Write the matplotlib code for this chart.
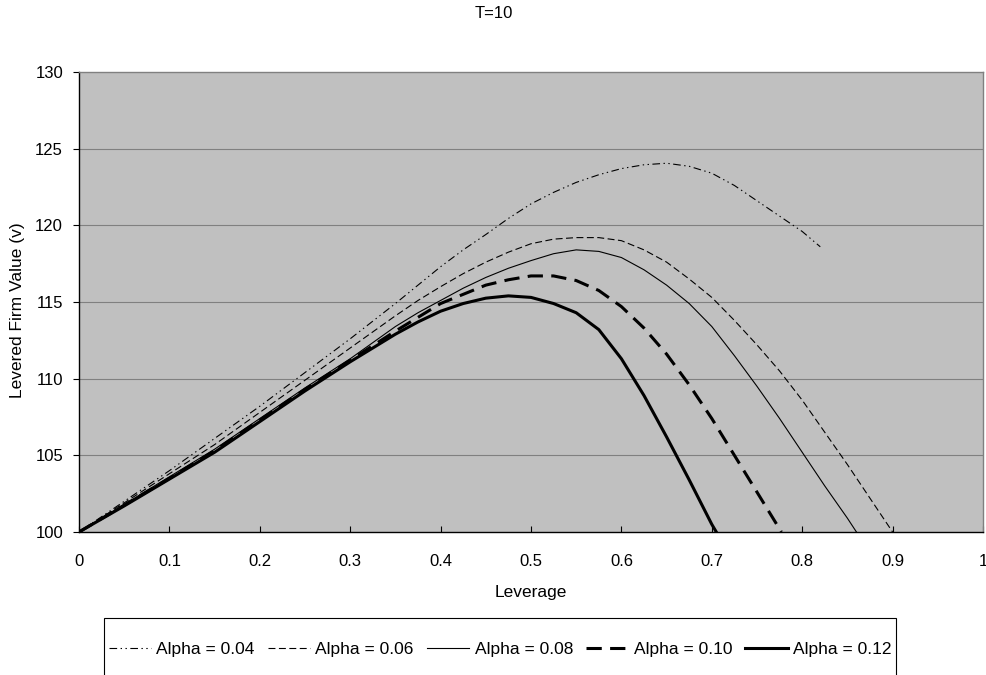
import matplotlib
matplotlib.use('Agg')
import matplotlib.pyplot as plt
from matplotlib.patches import Rectangle

plt.rcParams['font.family'] = ['Liberation Sans', 'DejaVu Sans']
plt.rcParams['lines.scale_dashes'] = False

# leverage grid and firm values
x_a04 = [0, 0.05, 0.1, 0.15, 0.2, 0.25, 0.3, 0.325, 0.35, 0.375, 0.4, 0.425, 0.45, 0.475, 0.5, 0.525, 0.55,
         0.575, 0.6, 0.625, 0.65, 0.675, 0.7, 0.725, 0.75, 0.775, 0.8, 0.82]
v_a04 = [100, 102.0, 104.0, 106.1, 108.2, 110.4, 112.6, 113.75, 114.9, 116.1, 117.3, 118.4, 119.4, 120.45, 121.4, 122.15, 122.8,
         123.3, 123.7, 123.95, 124.05, 123.85, 123.4, 122.6, 121.6, 120.6, 119.6, 118.6]

x_a06 = [0, 0.05, 0.1, 0.15, 0.2, 0.25, 0.3, 0.35, 0.375, 0.4, 0.425, 0.45, 0.475, 0.5, 0.525, 0.55, 0.575,
         0.6, 0.625, 0.65, 0.675, 0.7, 0.725, 0.75, 0.775, 0.8, 0.825, 0.85, 0.875, 0.9]
v_a06 = [100, 101.9, 103.8, 105.7, 107.8, 109.9, 112.0, 114.1, 115.1, 116.0, 116.85, 117.6, 118.25, 118.8, 119.1, 119.2, 119.2,
         119.0, 118.4, 117.6, 116.5, 115.3, 113.8, 112.2, 110.5, 108.6, 106.5, 104.4, 102.2, 100.0]

x_a08 = [0, 0.05, 0.1, 0.15, 0.2, 0.25, 0.3, 0.35, 0.375, 0.4, 0.425, 0.45, 0.475, 0.5, 0.525, 0.55, 0.575,
         0.6, 0.625, 0.65, 0.675, 0.7, 0.725, 0.75, 0.775, 0.8, 0.825, 0.85, 0.86]
v_a08 = [100, 101.8, 103.6, 105.4, 107.4, 109.4, 111.3, 113.4, 114.3, 115.1, 115.9, 116.6, 117.2, 117.7, 118.15, 118.4, 118.3,
         117.9, 117.1, 116.1, 114.9, 113.4, 111.5, 109.5, 107.4, 105.2, 103.0, 100.9, 100.0]

x_a10 = [0, 0.05, 0.1, 0.15, 0.2, 0.25, 0.3, 0.35, 0.375, 0.4, 0.425, 0.45, 0.475, 0.5, 0.525, 0.55, 0.575,
         0.6, 0.625, 0.65, 0.675, 0.7, 0.725, 0.75, 0.777]
v_a10 = [100, 101.75, 103.5, 105.3, 107.3, 109.3, 111.2, 113.1, 114.0, 114.9, 115.5, 116.1, 116.45, 116.7, 116.7, 116.4, 115.75,
         114.7, 113.3, 111.6, 109.6, 107.4, 105.0, 102.6, 100.0]

x_a12 = [0, 0.05, 0.1, 0.15, 0.2, 0.25, 0.3, 0.35, 0.375, 0.4, 0.425, 0.45, 0.475, 0.5, 0.525, 0.55, 0.575,
         0.6, 0.625, 0.65, 0.675, 0.7, 0.705]
v_a12 = [100, 101.7, 103.45, 105.2, 107.2, 109.2, 111.1, 112.9, 113.7, 114.4, 114.9, 115.25, 115.4, 115.3, 114.9, 114.3, 113.2,
         111.3, 108.9, 106.2, 103.4, 100.5, 100.0]

labels = ['Alpha = 0.04', 'Alpha = 0.06', 'Alpha = 0.08', 'Alpha = 0.10', 'Alpha = 0.12']
xticks = [0, 0.1, 0.2, 0.3, 0.4, 0.5, 0.6, 0.7, 0.8, 0.9, 1]
xticklabels = ['0', '0.1', '0.2', '0.3', '0.4', '0.5', '0.6', '0.7', '0.8', '0.9', '1']
yticks = [100, 105, 110, 115, 120, 125, 130]

fig = plt.figure(figsize=(9.87, 6.75), dpi=100)
ax = fig.add_axes([79/987, 1-532/675, (983-79)/987, (532-72)/675])
ax.set_facecolor('#c0c0c0')

ax.plot(x_a04, v_a04, color='black', lw=0.8, ls=(0, (5.5, 2.5, 1, 2.5, 1, 2.5)), label=labels[0])
ax.plot(x_a06, v_a06, color='black', lw=0.8, ls=(0, (5, 2.5)), label=labels[1])
ax.plot(x_a08, v_a08, color='black', lw=0.8, ls='-', label=labels[2])
ax.plot(x_a10, v_a10, color='black', lw=2.2, ls=(0, (11, 6)), label=labels[3])
ax.plot(x_a12, v_a12, color='black', lw=2.2, ls='-', label=labels[4])

ax.set_xlim(0, 1)
ax.set_ylim(100, 130)
ax.set_xticks(xticks)
ax.set_xticklabels(xticklabels)
ax.set_yticks(yticks)
for y in yticks[1:-1]:
    ax.axhline(y, color='#808080', lw=0.8, zorder=0)

for s in ['top', 'right']:
    ax.spines[s].set_color('#808080')
    ax.spines[s].set_linewidth(1)
for s in ['left', 'bottom']:
    ax.spines[s].set_color('black')
    ax.spines[s].set_linewidth(1)

ax.tick_params(axis='x', direction='in', length=4, pad=16, labelsize=12)
ax.tick_params(axis='y', direction='out', length=4, pad=7.5, labelsize=12)

fig.text(0.5, 1-14/675, 'T=10', ha='center', va='center', fontsize=12)
fig.text(531/987, 1-592/675, 'Leverage', ha='center', va='center', fontsize=12.5)
fig.text(18/987, 1-310/675, 'Levered Firm Value (v)', ha='center', va='center', rotation=90, fontsize=12.5)

# legend box, open past the bottom edge like the original
fig.patches.append(Rectangle((104/987, -0.02), (896-104)/987, 0.02 + (675-618)/675,
                             transform=fig.transFigure, facecolor='white', edgecolor='black', lw=0.8))
leg = fig.legend(loc='center', bbox_to_anchor=(500/987, 1-649/675), ncol=5, fontsize=12.5,
                 handlelength=2.45, handletextpad=0.3, columnspacing=0.75, borderpad=0.2,
                 frameon=False)

plt.savefig('out.png', dpi=100)
